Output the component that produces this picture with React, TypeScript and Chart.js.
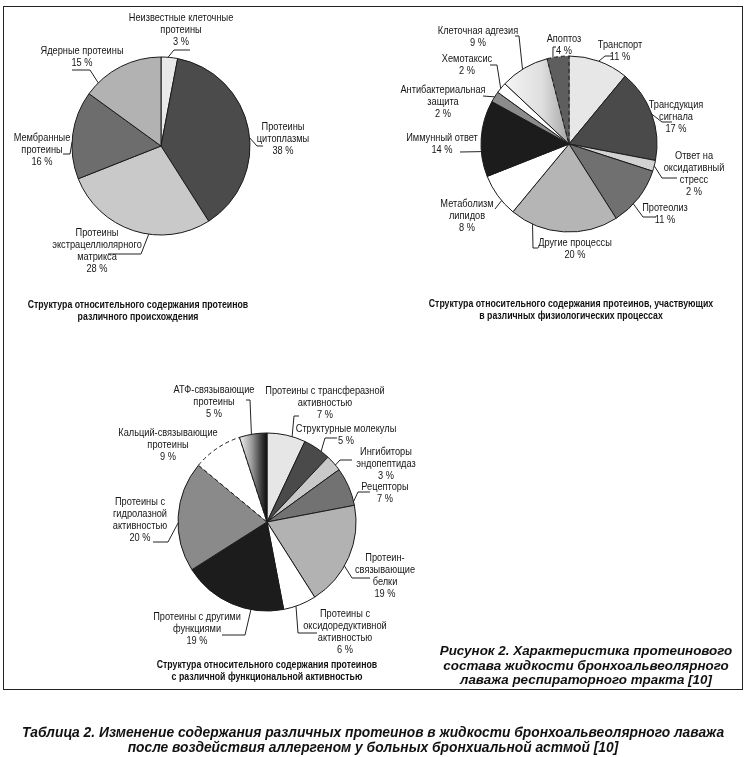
import React, { useEffect, useRef } from 'react';
import { Chart, registerables } from 'chart.js';

Chart.register(...registerables);

const W = 749;
const H = 757;

// ---------- DATA ----------
const originCategories = [
  'Неизвестные клеточные\nпротеины',
  'Протеины\nцитоплазмы',
  'Протеины\nэкстрацеллюлярного\nматрикса',
  'Мембранные\nпротеины',
  'Ядерные протеины',
];
const originValues = [3, 38, 28, 16, 15];

const processCategories = [
  'Транспорт',
  'Трансдукция\nсигнала',
  'Ответ на\nоксидативный\nстресс',
  'Протеолиз',
  'Другие процессы',
  'Метаболизм\nлипидов',
  'Иммунный ответ',
  'Антибактериальная\nзащита',
  'Хемотаксис',
  'Клеточная адгезия',
  'Апоптоз',
];
const processValues = [11, 17, 2, 11, 20, 8, 14, 2, 2, 9, 4];

const functionCategories = [
  'Протеины с трансферазной\nактивностью',
  'Структурные молекулы',
  'Ингибиторы\nэндопептидаз',
  'Рецепторы',
  'Протеин-\nсвязывающие\nбелки',
  'Протеины с\nоксидоредуктивной\nактивностью',
  'Протеины с другими\nфункциями',
  'Протеины с\nгидролазной\nактивностью',
  'Кальций-связывающие\nпротеины',
  'АТФ-связывающие\nпротеины',
];
const functionValues = [7, 5, 3, 7, 19, 6, 19, 20, 9, 5];

const captionOrigin = ['Структура относительного содержания протеинов', 'различного происхождения'];
const captionProcess = ['Структура относительного содержания протеинов, участвующих', 'в различных физиологических процессах'];
const captionFunction = ['Структура относительного содержания протеинов', 'с различной функциональной активностью'];
const figureCaption = ['Рисунок 2. Характеристика протеинового', 'состава жидкости бронхоальвеолярного', 'лаважа респираторного тракта [10]'];
const tableCaption = [
  'Таблица 2. Изменение содержания различных протеинов в жидкости бронхоальвеолярного лаважа',
  'после воздействия аллергеном у больных бронхиальной астмой [10]',
];

// ---------- STYLES / LAYOUT ----------
type Grad = { from: number; to: number; stops: [number, string][] };
type LabelSpec = { x: number; y: number; t: number; path: number[][] };
type PieSpec = {
  categories: string[];
  values: number[];
  cx: number;
  cy: number;
  r: number;
  colors: string[];
  gradients: Record<number, Grad>;
  dashed: number[];
  labels: LabelSpec[];
};

const originColors = ['#e9e9e9', '#4b4b4b', '#c9c9c9', '#6d6d6d', '#b2b2b2'];
const processColors = ['#e7e7e7', '#4a4a4a', '#d2d2d2', '#707070', '#b5b5b5', '#ffffff', '#1c1c1c', '#8c8c8c', '#ffffff', '#e0e0e0', '#5e5e5e'];
const functionColors = ['#e6e6e6', '#4a4a4a', '#c9c9c9', '#727272', '#b2b2b2', '#ffffff', '#1c1c1c', '#8a8a8a', '#ffffff', '#888888'];

const originLabels: LabelSpec[] = [
  { x: 181, y: 18, t: 0.42, path: [[174, 50], [190, 50]] },
  { x: 283, y: 127, t: 0.54, path: [[257, 146], [263, 146]] },
  { x: 97, y: 233, t: 0.4, path: [[141, 254], [108, 254]] },
  { x: 42, y: 138, t: 0.42, path: [[70, 154], [63, 154]] },
  { x: 82, y: 51, t: 0.17, path: [[90, 70], [72, 70]] },
];
const processLabels: LabelSpec[] = [
  { x: 620, y: 45, t: 0.5, path: [[605, 56], [612, 56]] },
  { x: 676, y: 105, t: 0.5, path: [[662, 122], [672, 122]] },
  { x: 694, y: 156, t: 0.5, path: [[662, 178], [677, 178]] },
  { x: 665, y: 208, t: 0.63, path: [[643, 217], [656, 217]] },
  { x: 575, y: 243, t: 0.79, path: [[533, 248], [538, 248]] },
  { x: 467, y: 204, t: 0.36, path: [[495, 209]] },
  { x: 442, y: 138, t: 0.33, path: [[460, 152]] },
  { x: 443, y: 90, t: 0.5, path: [[483, 96]] },
  { x: 467, y: 59, t: 0.43, path: [[497, 65], [490, 65]] },
  { x: 478, y: 31, t: 0.46, path: [[519, 36], [515, 36]] },
  { x: 564, y: 39, t: 0.27, path: [[553, 47], [556, 47]] },
];
const functionLabels: LabelSpec[] = [
  { x: 325, y: 391, t: 0.65, path: [[294, 416], [299, 416]] },
  { x: 346, y: 429, t: 0.68, path: [[325, 438], [337, 438]] },
  { x: 386, y: 452, t: 0.65, path: [[340, 460], [352, 460]] },
  { x: 385, y: 487, t: 0.9, path: [[358, 492], [370, 492]] },
  { x: 385, y: 558, t: 0.59, path: [[352, 578], [370, 578]] },
  { x: 345, y: 614, t: 0.62, path: [[298, 633], [317, 633]] },
  { x: 197, y: 617, t: 0.31, path: [[245, 635], [222, 635]] },
  { x: 140, y: 502, t: 0.44, path: [[168, 542], [153, 542]] },
  { x: 168, y: 433, t: 0.38, path: [] },
  { x: 214, y: 390, t: 0.44, path: [[250, 400], [246, 400]] },
];

const pies: PieSpec[] = [
  { categories: originCategories, values: originValues, cx: 161, cy: 146, r: 89, colors: originColors, gradients: {}, dashed: [], labels: originLabels },
  {
    categories: processCategories, values: processValues, cx: 569, cy: 144, r: 88, colors: processColors,
    gradients: { 9: { from: -0.73, to: -0.02, stops: [[0, '#f5f5f5'], [0.6, '#dedede'], [1, '#a8a8a8']] } },
    dashed: [10], labels: processLabels,
  },
  {
    categories: functionCategories, values: functionValues, cx: 267, cy: 522, r: 89, colors: functionColors,
    gradients: { 9: { from: -0.31, to: 0, stops: [[0, '#f4f4f4'], [0.45, '#9a9a9a'], [0.8, '#3a3a3a'], [1, '#0c0c0c']] } },
    dashed: [8], labels: functionLabels,
  },
];

const LABEL_FONT = '11px "Liberation Sans", Arial, sans-serif';
const LABEL_SCALE = 0.84;
const LINE_H = 12;

const sliceLabelPlugin = {
  id: 'sliceLabels',
  afterDatasetsDraw(chart: any, _args: any, opts: any) {
    const spec: PieSpec = opts.spec;
    if (!spec) return;
    const ctx = chart.ctx as CanvasRenderingContext2D;
    const meta = chart.getDatasetMeta(0);
    ctx.save();
    ctx.strokeStyle = '#222';
    ctx.lineWidth = 1;
    ctx.fillStyle = '#161616';
    ctx.font = LABEL_FONT;
    ctx.textAlign = 'center';
    ctx.textBaseline = 'middle';
    spec.labels.forEach((lab, i) => {
      const arc = meta.data[i];
      if (!arc) return;
      const p = arc.getProps(['x', 'y', 'startAngle', 'endAngle', 'outerRadius'], true);
      if (lab.path.length) {
        const a = p.startAngle + lab.t * (p.endAngle - p.startAngle);
        ctx.beginPath();
        ctx.moveTo(p.x + p.outerRadius * Math.cos(a), p.y + p.outerRadius * Math.sin(a));
        lab.path.forEach(([px, py]) => ctx.lineTo(px, py));
        ctx.stroke();
      }
      const lines = spec.categories[i].split('\n').concat([`${spec.values[i]} %`]);
      lines.forEach((ln, k) => {
        ctx.save();
        ctx.translate(lab.x, lab.y + k * LINE_H);
        ctx.scale(LABEL_SCALE, 1);
        ctx.fillText(ln, 0, 0);
        ctx.restore();
      });
    });
    ctx.restore();
  },
};

function PieChart({ spec }: { spec: PieSpec }) {
  const ref = useRef<HTMLCanvasElement>(null);
  useEffect(() => {
    const canvas = ref.current!;
    const s = 100;
    const chart = new Chart(canvas, {
      type: 'pie',
      data: {
        labels: spec.categories,
        datasets: [
          {
            data: spec.values,
            backgroundColor: (c: any) => {
              const g = spec.gradients[c.dataIndex];
              const area = c.chart.chartArea;
              if (!g || !area) return spec.colors[c.dataIndex];
              const cx = (area.left + area.right) / 2;
              const grad = c.chart.ctx.createLinearGradient(cx + g.from * spec.r, 0, cx + g.to * spec.r, 0);
              g.stops.forEach(([o, col]) => grad.addColorStop(o, col));
              return grad;
            },
            borderColor: '#1a1a1a',
            borderWidth: 1,
            borderDash: (c: any) => (spec.dashed.includes(c.dataIndex) ? [4, 3] : []),
          } as any,
        ],
      },
      options: {
        responsive: false,
        maintainAspectRatio: false,
        animation: false,
        events: [],
        radius: spec.r,
        layout: {
          padding: {
            left: spec.cx - s,
            right: W - spec.cx - s,
            top: spec.cy - s,
            bottom: H - spec.cy - s,
          },
        },
        plugins: {
          legend: { display: false },
          tooltip: { enabled: false },
          sliceLabels: { spec },
        } as any,
      } as any,
      plugins: [sliceLabelPlugin],
    });
    return () => chart.destroy();
  }, [spec]);
  return (
    <canvas
      ref={ref}
      width={W}
      height={H}
      style={{ position: 'absolute', left: 0, top: 0, width: W, height: H, pointerEvents: 'none' }}
    />
  );
}

function TextBlock({
  lines, cx, top, size, lineH, scale, italic,
}: { lines: string[]; cx: number; top: number; size: number; lineH: number; scale: number; italic?: boolean }) {
  return (
    <div
      style={{
        position: 'absolute',
        left: cx - 400,
        width: 800,
        top,
        textAlign: 'center',
        fontFamily: '"Liberation Sans", Arial, sans-serif',
        fontWeight: 'bold',
        fontStyle: italic ? 'italic' : 'normal',
        fontSize: size,
        lineHeight: `${lineH}px`,
        color: '#111',
        whiteSpace: 'pre',
        transform: `scaleX(${scale})`,
        transformOrigin: 'center top',
      }}
    >
      {lines.map((l, i) => (
        <div key={i}>{l}</div>
      ))}
    </div>
  );
}

export default function App() {
  return (
    <div style={{ position: 'absolute', left: 0, top: 0, width: W, height: H, background: '#fff', overflow: 'hidden' }}>
      <div
        style={{
          position: 'absolute',
          left: 3,
          top: 6,
          width: 738,
          height: 682,
          border: '1.5px solid #222',
        }}
      />
      {pies.map((p, i) => (
        <PieChart key={i} spec={p} />
      ))}
      <TextBlock lines={captionOrigin} cx={138} top={299} size={10.5} lineH={11.5} scale={0.833} />
      <TextBlock lines={captionProcess} cx={571} top={298} size={10.5} lineH={11.5} scale={0.833} />
      <TextBlock lines={captionFunction} cx={267} top={659} size={10.5} lineH={11.5} scale={0.833} />
      <TextBlock lines={figureCaption} cx={586} top={644} size={13.4} lineH={14.5} scale={1} italic />
      <TextBlock lines={tableCaption} cx={373} top={724.5} size={13.8} lineH={15} scale={1} italic />
    </div>
  );
}
